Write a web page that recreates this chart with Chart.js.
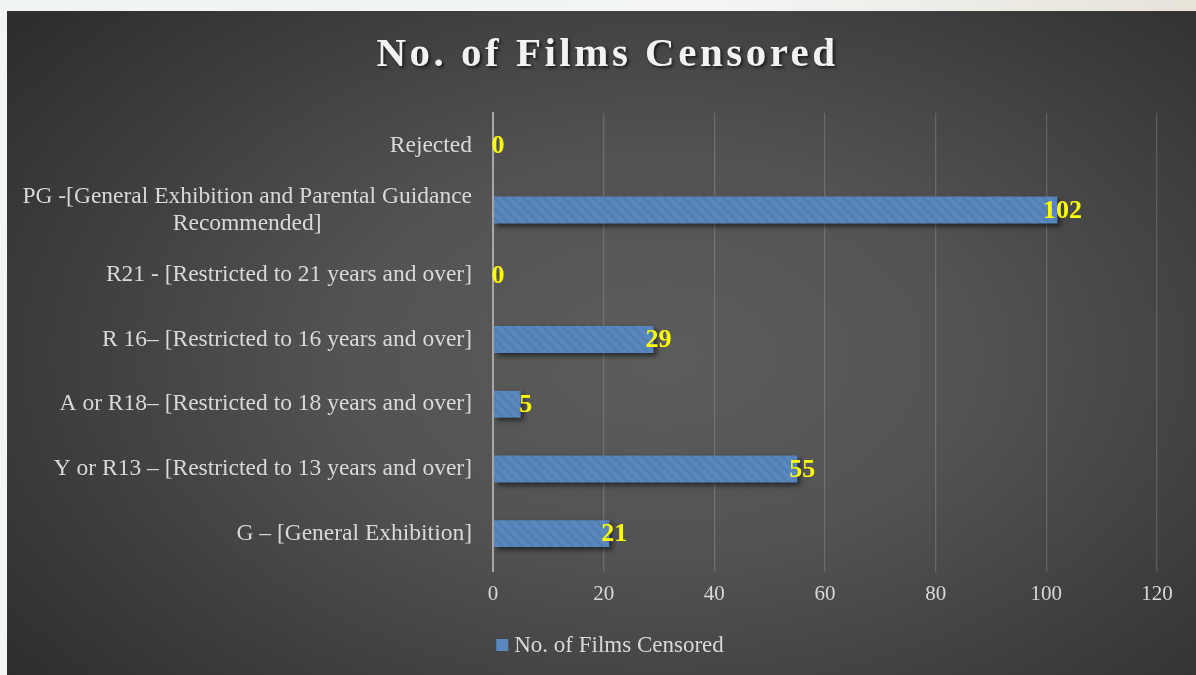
<!DOCTYPE html>
<html>
<head>
<meta charset="utf-8">
<script src="https://cdn.jsdelivr.net/npm/chart.js@4/dist/chart.umd.min.js"></script>
<style>
  html, body { margin: 0; padding: 0; }
  body {
    width: 1196px; height: 675px; overflow: hidden; position: relative;
    background: linear-gradient(to right, #f1f4f4 0%, #f3f5f5 60%, #e8e3d9 100%);
  }
  #wrap {
    position: absolute; left: 7px; top: 11px; width: 1189px; height: 664px;
    background: radial-gradient(ellipse 75% 85% at 55% 52%, #5c5c5c 0%, #535353 35%, #3c3c3c 70%, #292929 100%);
  }
</style>
</head>
<body>
<div id="wrap"><canvas id="filmChart" width="1189" height="664"></canvas></div>
<script>
document.addEventListener("DOMContentLoaded", function () {
    // Chart data
    const chartTitle = 'No. of Films Censored';
    const seriesName = 'No. of Films Censored';
    const categories = [
        'Rejected',
        ['PG -[General Exhibition and Parental Guidance', 'Recommended]'],
        'R21 - [Restricted to 21 years and over]',
        'R 16– [Restricted to 16 years and over]',
        'A or R18– [Restricted to 18 years and over]',
        'Y or R13 – [Restricted to 13 years and over]',
        'G – [General Exhibition]'
    ];
    const filmCounts = [0, 102, 0, 29, 5, 55, 21];
    const xTickValues = [0, 20, 40, 60, 80, 100, 120];

    const serif = "'Liberation Serif', 'Times New Roman', serif";
    const labelColor = '#d9d9d9';

    // Hatched blue fill for the bars
    function makeHatch() {
        const tile = document.createElement('canvas');
        tile.width = 10;
        tile.height = 10;
        const t = tile.getContext('2d');
        t.fillStyle = '#5a87bd';
        t.fillRect(0, 0, 10, 10);
        t.strokeStyle = '#5380b4';
        t.lineWidth = 3;
        t.beginPath();
        t.moveTo(-2, -2); t.lineTo(12, 12);
        t.moveTo(-7, 3); t.lineTo(2, 12);
        t.moveTo(8, -2); t.lineTo(17, 7);
        t.stroke();
        return t.createPattern(tile, 'repeat');
    }
    const hatch = makeHatch();

    // Draws the spaced-out title at the top
    const titlePlugin = {
        id: 'titlePlugin',
        afterDraw(chart) {
            const ctx = chart.ctx;
            ctx.save();
            ctx.font = 'bold 41px ' + serif;
            ctx.letterSpacing = '3.5px';
            ctx.fillStyle = '#f2f2f2';
            ctx.textAlign = 'center';
            ctx.textBaseline = 'middle';
            ctx.shadowColor = 'rgba(0,0,0,0.6)';
            ctx.shadowOffsetX = 2;
            ctx.shadowOffsetY = 2;
            ctx.shadowBlur = 3;
            ctx.fillText(chartTitle, chart.width / 2 + 6, 44);
            ctx.restore();
        }
    };

    // Category labels, multi-line ones centred as a block
    const categoryLabelPlugin = {
        id: 'categoryLabelPlugin',
        afterDraw(chart) {
            const ctx = chart.ctx;
            const yScale = chart.scales.y;
            const rightEdge = yScale.right - 21;
            const lineHeight = 27;
            ctx.save();
            ctx.font = '23.5px ' + serif;
            ctx.fillStyle = labelColor;
            ctx.textBaseline = 'middle';
            chart.data.labels.forEach((label, i) => {
                const lines = Array.isArray(label) ? label : [label];
                const y = yScale.getPixelForTick(i);
                const startY = y - (lines.length - 1) * lineHeight / 2;
                const maxW = Math.max(...lines.map(l => ctx.measureText(l).width));
                lines.forEach((line, j) => {
                    if (lines.length > 1) {
                        ctx.textAlign = 'center';
                        ctx.fillText(line, rightEdge - maxW / 2, startY + j * lineHeight);
                    } else {
                        ctx.textAlign = 'right';
                        ctx.fillText(line, rightEdge, startY);
                    }
                });
            });
            ctx.restore();
        }
    };

    // Shadow under the bars
    const barShadowPlugin = {
        id: 'barShadowPlugin',
        beforeDatasetsDraw(chart) {
            const ctx = chart.ctx;
            ctx.save();
            ctx.shadowColor = 'rgba(0,0,0,0.55)';
            ctx.shadowOffsetX = 3;
            ctx.shadowOffsetY = 3;
            ctx.shadowBlur = 5;
        },
        afterDatasetsDraw(chart) {
            chart.ctx.restore();
        }
    };

    // Yellow value labels at the bar ends
    const valueLabelPlugin = {
        id: 'valueLabelPlugin',
        afterDatasetsDraw(chart) {
            const ctx = chart.ctx;
            const meta = chart.getDatasetMeta(0);
            ctx.save();
            ctx.font = 'bold 26px ' + serif;
            ctx.fillStyle = '#ffff00';
            ctx.textAlign = 'center';
            ctx.textBaseline = 'middle';
            meta.data.forEach((bar, i) => {
                ctx.fillText(String(chart.data.datasets[0].data[i]), bar.x + 5, bar.y + 1);
            });
            ctx.restore();
        }
    };

    // Legend drawn at the bottom
    const legendPlugin = {
        id: 'legendPlugin',
        afterDraw(chart) {
            const ctx = chart.ctx;
            const text = chart.data.datasets[0].label;
            ctx.save();
            ctx.font = '23px ' + serif;
            const textW = ctx.measureText(text).width;
            const total = 12 + 6 + textW;
            const left = 603 - total / 2;
            const cy = 634;
            ctx.fillStyle = '#5a87bd';
            ctx.fillRect(left, cy - 6, 12, 12);
            ctx.fillStyle = labelColor;
            ctx.textAlign = 'left';
            ctx.textBaseline = 'middle';
            ctx.fillText(text, left + 18, cy + 1);
            ctx.restore();
        }
    };

    const ctx = document.getElementById('filmChart').getContext('2d');
    new Chart(ctx, {
        type: 'bar',
        data: {
            labels: categories,
            datasets: [{
                label: seriesName,
                data: filmCounts,
                backgroundColor: hatch,
                borderWidth: 0,
                categoryPercentage: 0.8,
                barPercentage: 0.52
            }]
        },
        options: {
            indexAxis: 'y',
            responsive: false,
            animation: false,
            layout: {
                padding: { top: 102, right: 39, bottom: 69, left: 0 }
            },
            scales: {
                x: {
                    min: 0,
                    max: 120,
                    afterBuildTicks: scale => {
                        scale.ticks = xTickValues.map(v => ({ value: v }));
                    },
                    afterFit: scale => { scale.height = 40; },
                    grid: {
                        color: c => (c.tick && c.tick.value === 0) ? '#a8a8a8' : 'rgba(255,255,255,0.16)',
                        lineWidth: c => (c.tick && c.tick.value === 0) ? 2 : 1.3,
                        drawTicks: true,
                        tickLength: 6
                    },
                    border: { display: false },
                    ticks: {
                        color: labelColor,
                        padding: 10,
                        font: { family: serif, size: 21 }
                    }
                },
                y: {
                    afterFit: scale => { scale.width = 486; },
                    grid: { display: false },
                    border: { display: true, color: '#a8a8a8', width: 2 },
                    ticks: { display: false }
                }
            },
            plugins: {
                legend: { display: false },
                title: { display: false },
                tooltip: { enabled: false }
            }
        },
        plugins: [barShadowPlugin, valueLabelPlugin, categoryLabelPlugin, titlePlugin, legendPlugin]
    });
});
</script>
</body>
</html>
